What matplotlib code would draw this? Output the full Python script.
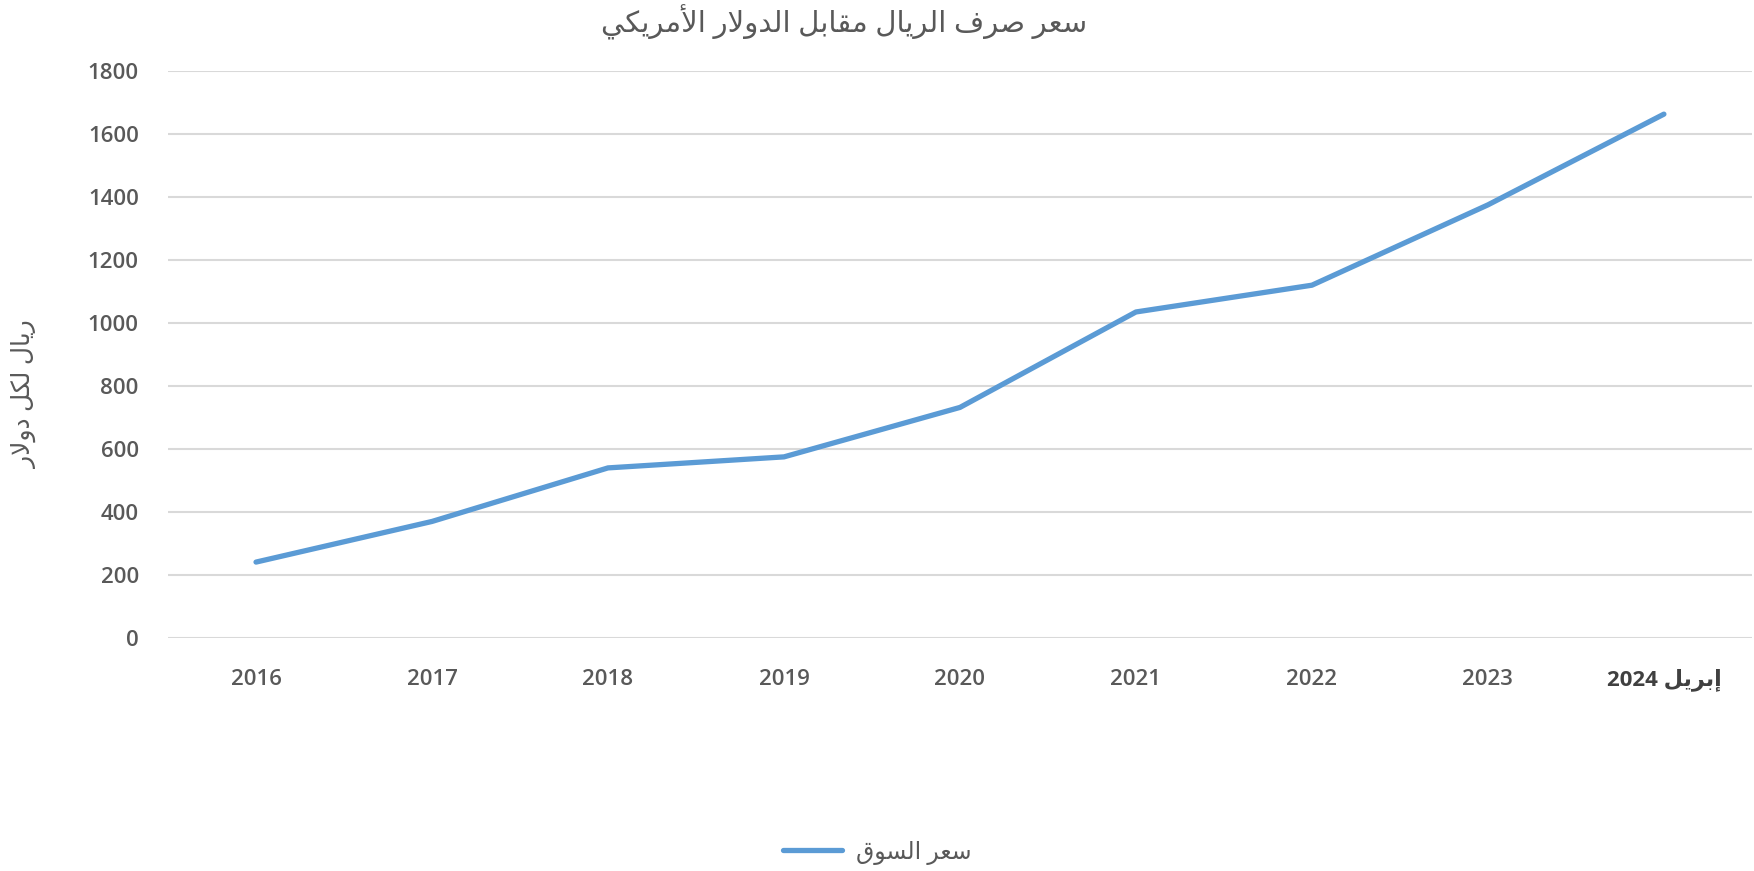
import matplotlib
matplotlib.use("Agg")
import matplotlib.pyplot as plt

# data
years = ["2016", "2017", "2018", "2019", "2020", "2021", "2022", "2023", "2024"]
rate = [241, 370, 540, 575, 732, 1035, 1120, 1375, 1663]
y_ticks = [0, 200, 400, 600, 800, 1000, 1200, 1400, 1600, 1800]

title_ar = "سعر صرف الريال مقابل الدولار الأمريكي"
ylabel_ar = "ريال لكل دولار"
legend_ar = "سعر السوق"
april_ar = "إبريل"

# arabic letters -> (isolated, final, initial, medial); two entries = joins only to the right
forms = {
    "ا": ("\uFE8D", "\uFE8E"),
    "أ": ("\uFE83", "\uFE84"),
    "إ": ("\uFE87", "\uFE88"),
    "د": ("\uFEA9", "\uFEAA"),
    "ر": ("\uFEAD", "\uFEAE"),
    "و": ("\uFEED", "\uFEEE"),
    "ب": ("\uFE8F", "\uFE90", "\uFE91", "\uFE92"),
    "س": ("\uFEB1", "\uFEB2", "\uFEB3", "\uFEB4"),
    "ص": ("\uFEB9", "\uFEBA", "\uFEBB", "\uFEBC"),
    "ع": ("\uFEC9", "\uFECA", "\uFECB", "\uFECC"),
    "ف": ("\uFED1", "\uFED2", "\uFED3", "\uFED4"),
    "ق": ("\uFED5", "\uFED6", "\uFED7", "\uFED8"),
    "ك": ("\uFED9", "\uFEDA", "\uFEDB", "\uFEDC"),
    "ل": ("\uFEDD", "\uFEDE", "\uFEDF", "\uFEE0"),
    "م": ("\uFEE1", "\uFEE2", "\uFEE3", "\uFEE4"),
    "ي": ("\uFEF1", "\uFEF2", "\uFEF3", "\uFEF4"),
}
lam_alef = {"ا": ("\uFEFB", "\uFEFC"), "أ": ("\uFEF7", "\uFEF8"), "إ": ("\uFEF9", "\uFEFA")}


def arabic(text):
    # join letters into presentation forms, then flip to visual order
    tokens = []
    i = 0
    while i < len(text):
        if text[i] == "ل" and i + 1 < len(text) and text[i + 1] in lam_alef:
            tokens.append(lam_alef[text[i + 1]])
            i += 2
        else:
            tokens.append(forms.get(text[i], text[i]))
            i += 1
    out = []
    for k, t in enumerate(tokens):
        if isinstance(t, str):
            out.append(t)
            continue
        prev = tokens[k - 1] if k > 0 else None
        nxt = tokens[k + 1] if k + 1 < len(tokens) else None
        join_prev = isinstance(prev, tuple) and len(prev) == 4
        join_next = len(t) == 4 and isinstance(nxt, tuple)
        if join_prev and join_next:
            out.append(t[3])
        elif join_prev:
            out.append(t[1])
        elif join_next:
            out.append(t[2])
        else:
            out.append(t[0])
    return "".join(out)[::-1]


plt.rcParams["font.family"] = ["Open Sans", "DejaVu Sans"]
grey = "#595959"

fig = plt.figure(figsize=(17.54, 8.71), dpi=100)
ax = fig.add_axes([0.0958, 0.2675, 0.903, 0.651])

x = list(range(len(years)))
ax.plot(x, rate, color="#5B9BD5", linewidth=3.8, solid_capstyle="round",
        solid_joinstyle="round", label=arabic(legend_ar), zorder=3)

ax.set_xlim(-0.5, len(years) - 0.5)
ax.set_ylim(0, 1800)
ax.set_yticks(y_ticks)
ax.yaxis.grid(True, color="#D9D9D9", linewidth=1.5)
ax.set_axisbelow(True)
for s in ax.spines.values():
    s.set_visible(False)
ax.tick_params(axis="both", length=0, labelsize=16, labelcolor=grey)
ax.tick_params(axis="y", pad=21)
ax.tick_params(axis="x", pad=22)

labels = years[:-1] + [years[-1] + " " + arabic(april_ar)]
ax.set_xticks(x)
ax.set_xticklabels(labels)
for lbl in ax.get_xticklabels() + ax.get_yticklabels():
    lbl.set_fontweight("semibold")
last = ax.get_xticklabels()[-1]
last.set_fontweight("bold")
last.set_color("#404040")

ax.set_ylabel(arabic(ylabel_ar), fontsize=18, color=grey)
ax.yaxis.set_label_coords(-0.083, 0.43)

fig.text(0.481, 0.975, arabic(title_ar), ha="center", va="center",
         fontsize=21, color=grey)

fig.legend(loc="center", bbox_to_anchor=(0.5, 0.021), frameon=False,
           fontsize=17, labelcolor=grey, handlelength=2.5, handletextpad=0.6)

fig.savefig("out.png", dpi=100, facecolor="white")
